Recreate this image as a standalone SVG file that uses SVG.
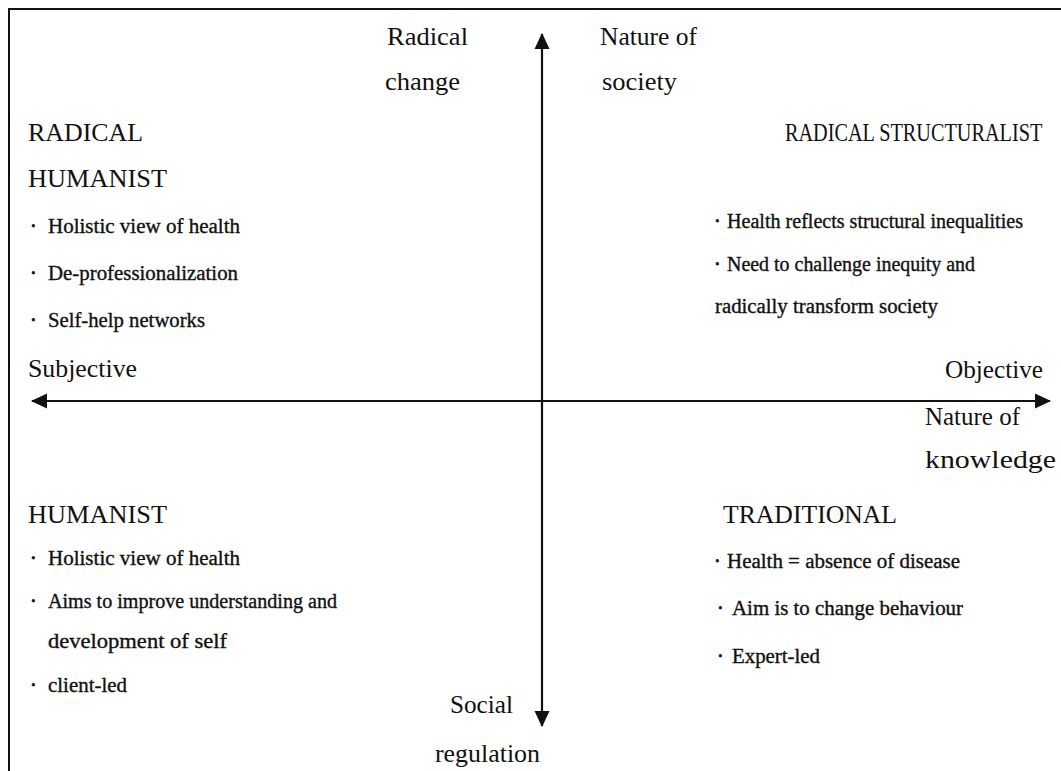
<svg xmlns="http://www.w3.org/2000/svg" width="1061" height="771" viewBox="0 0 1061 771">
  <style>
    text { font-family: "Liberation Serif", "Times New Roman", serif; fill: #111; }
    .head { font-size: 25px; }
    .axis { font-size: 25px; }
    .body { font-size: 20px; stroke: #111; stroke-width: 0.35; }
    .dot { font-size: 20px; stroke: #111; stroke-width: 0.8; }
    .frame { stroke: #111; stroke-width: 2; fill: none; }
    .axisline { stroke: #111; stroke-width: 2.2; fill: none; marker-start: url(#head); marker-end: url(#head); }
  </style>
  <defs>
    <marker id="head" markerUnits="userSpaceOnUse" markerWidth="16" markerHeight="16" refX="15" refY="8" orient="auto-start-reverse">
      <path d="M0,0.5 L16,8 L0,15.5 z" fill="#111"/>
    </marker>
  </defs>
  <rect width="1061" height="771" fill="#fff"/>

  <!-- outer frame: top and left edges -->
  <g id="frame">
    <path class="frame" d="M9,771 L9,9 L1061,9"/>
  </g>

  <!-- the two axes -->
  <g id="connectors">
    <line class="axisline" x1="542" y1="726" x2="542" y2="34"/>
    <line class="axisline" x1="32" y1="401" x2="1050" y2="401"/>
  </g>

  <!-- axis labels -->
  <g id="label-radical-change">
    <text class="axis" x="387" y="45" textLength="81" lengthAdjust="spacingAndGlyphs">Radical</text>
    <text class="axis" x="385" y="90" textLength="75" lengthAdjust="spacingAndGlyphs">change</text>
  </g>
  <g id="label-nature-of-society">
    <text class="axis" x="600" y="45" textLength="97" lengthAdjust="spacingAndGlyphs">Nature of</text>
    <text class="axis" x="602" y="90" textLength="75" lengthAdjust="spacingAndGlyphs">society</text>
  </g>
  <g id="label-subjective">
    <text class="axis" x="28" y="377" textLength="109" lengthAdjust="spacingAndGlyphs">Subjective</text>
  </g>
  <g id="label-objective">
    <text class="axis" x="945" y="378" textLength="98" lengthAdjust="spacingAndGlyphs">Objective</text>
  </g>
  <g id="label-nature-of-knowledge">
    <text class="axis" x="925" y="425" textLength="95" lengthAdjust="spacingAndGlyphs">Nature of</text>
    <text class="axis" x="925" y="468" textLength="131" lengthAdjust="spacingAndGlyphs">knowledge</text>
  </g>
  <g id="label-social-regulation">
    <text class="axis" x="450" y="713" textLength="63" lengthAdjust="spacingAndGlyphs">Social</text>
    <text class="axis" x="435" y="762" textLength="105" lengthAdjust="spacingAndGlyphs">regulation</text>
  </g>

  <!-- top-left quadrant -->
  <g id="radical-humanist">
    <text class="head" x="28" y="141" textLength="115" lengthAdjust="spacingAndGlyphs">RADICAL</text>
    <text class="head" x="28" y="187" textLength="139" lengthAdjust="spacingAndGlyphs">HUMANIST</text>
    <text class="dot" x="30" y="233">·</text>
    <text class="body" x="48" y="233" textLength="192" lengthAdjust="spacingAndGlyphs">Holistic view of health</text>
    <text class="dot" x="30" y="280">·</text>
    <text class="body" x="48" y="280" textLength="190" lengthAdjust="spacingAndGlyphs">De-professionalization</text>
    <text class="dot" x="30" y="327">·</text>
    <text class="body" x="48" y="327" textLength="157" lengthAdjust="spacingAndGlyphs">Self-help networks</text>
  </g>

  <!-- top-right quadrant -->
  <g id="radical-structuralist">
    <text class="head" transform="translate(785 141) scale(0.81 1)" x="0" y="0">RADICAL STRUCTURALIST</text>
    <text class="dot" x="714" y="228">·</text>
    <text class="body" x="727" y="228" textLength="296" lengthAdjust="spacingAndGlyphs">Health reflects structural inequalities</text>
    <text class="dot" x="714" y="271">·</text>
    <text class="body" x="727" y="271" textLength="248" lengthAdjust="spacingAndGlyphs">Need to challenge inequity and</text>
    <text class="body" x="715" y="313" textLength="223" lengthAdjust="spacingAndGlyphs">radically transform society</text>
  </g>

  <!-- bottom-left quadrant -->
  <g id="humanist">
    <text class="head" x="28" y="523" textLength="139" lengthAdjust="spacingAndGlyphs">HUMANIST</text>
    <text class="dot" x="30" y="565">·</text>
    <text class="body" x="48" y="565" textLength="192" lengthAdjust="spacingAndGlyphs">Holistic view of health</text>
    <text class="dot" x="30" y="608">·</text>
    <text class="body" x="48" y="608" textLength="289" lengthAdjust="spacingAndGlyphs">Aims to improve understanding and</text>
    <text class="body" x="48" y="648" textLength="179" lengthAdjust="spacingAndGlyphs">development of self</text>
    <text class="dot" x="30" y="692">·</text>
    <text class="body" x="48" y="692" textLength="79" lengthAdjust="spacingAndGlyphs">client-led</text>
  </g>

  <!-- bottom-right quadrant -->
  <g id="traditional">
    <text class="head" x="723" y="523" textLength="174" lengthAdjust="spacingAndGlyphs">TRADITIONAL</text>
    <text class="dot" x="714" y="568">·</text>
    <text class="body" x="727" y="568" textLength="233" lengthAdjust="spacingAndGlyphs">Health = absence of disease</text>
    <text class="dot" x="717" y="615">·</text>
    <text class="body" x="732" y="615" textLength="231" lengthAdjust="spacingAndGlyphs">Aim is to change behaviour</text>
    <text class="dot" x="717" y="663">·</text>
    <text class="body" x="732" y="663" textLength="88" lengthAdjust="spacingAndGlyphs">Expert-led</text>
  </g>
</svg>
